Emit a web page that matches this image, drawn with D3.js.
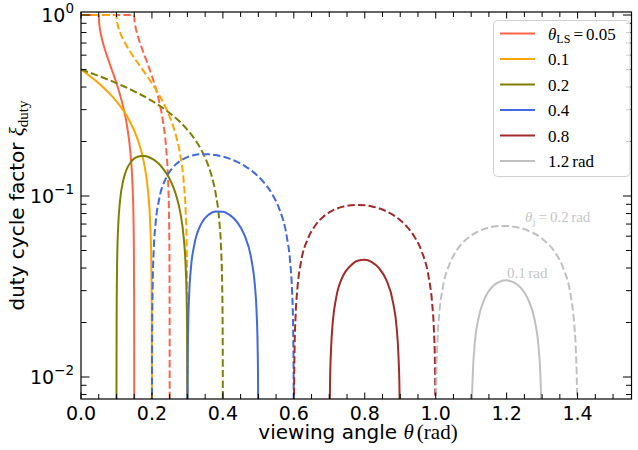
<!DOCTYPE html>
<html>
<head>
<meta charset="utf-8">
<script src="https://cdn.jsdelivr.net/npm/d3@7"></script>
<style>
  body { margin: 0; background: #fff; }
  svg { display: block; }
</style>
</head>
<body>
<svg id="chart" width="638" height="450"></svg>
<script>
// ---- data -------------------------------------------------------------
// line-of-sight (precession) angles, one colour each
const thetaLS = [0.05, 0.1, 0.2, 0.4, 0.8, 1.2];
const legendLabels = ["0.05", "0.1", "0.2", "0.4", "0.8", "1.2"];
const seriesColors = ["#ff6347", "#ffa500", "#808000", "#4169e1", "#a52a2a", "#c0c0c0"];

// duty cycle factor vs viewing angle, [theta (rad), xi], jet half-opening 0.1 rad (solid)
const xiJet01_ls005 = [[0,1],[0.05,1],[0.051,0.9103],[0.0525,0.8592],[0.055,0.8025],[0.06,0.7252],[0.07,0.6211],[0.08,0.5439],[0.09,0.4788],[0.10,0.4196],[0.11,0.3626],[0.12,0.3050],[0.13,0.2426],[0.14,0.1677],[0.145,0.1175],[0.148,0.0738],[0.149,0.0521],[0.1497,0.0285],[0.1499,0.0164],[0.15,0]];
const xiJet01_ls01 = [[0,0.5],[0.02,0.4681],[0.04,0.4359],[0.06,0.4030],[0.08,0.3690],[0.10,0.3333],[0.12,0.2952],[0.14,0.2532],[0.16,0.2048],[0.17,0.1766],[0.18,0.1436],[0.19,0.1011],[0.195,0.0713],[0.198,0.0450],[0.199,0.0319],[0.1995,0.0225],[0.1999,0.0101],[0.2,0]];
const xiJet01_ls02 = [[0.1,0],[0.1001,0.0101],[0.1005,0.0224],[0.101,0.0316],[0.102,0.0444],[0.105,0.0687],[0.11,0.0939],[0.12,0.1241],[0.13,0.1422],[0.14,0.1537],[0.15,0.1609],[0.16,0.1647],[0.17,0.1666],[0.18,0.1663],[0.19,0.1643],[0.20,0.1609],[0.21,0.1561],[0.22,0.1501],[0.23,0.1428],[0.24,0.1341],[0.25,0.1241],[0.26,0.1123],[0.27,0.0982],[0.28,0.0809],[0.29,0.0577],[0.295,0.0409],[0.298,0.0259],[0.299,0.0184],[0.2998,0.0083],[0.3,0]];
const xiJet01_ls04 = [[0.3,0],[0.3003,0.0070],[0.301,0.0129],[0.302,0.0182],[0.305,0.0287],[0.31,0.0402],[0.32,0.0545],[0.34,0.0708],[0.36,0.0789],[0.38,0.0822],[0.40,0.0819],[0.42,0.0784],[0.44,0.0718],[0.46,0.0613],[0.48,0.0451],[0.49,0.0324],[0.495,0.0230],[0.498,0.0145],[0.499,0.0103],[0.4997,0.0056],[0.5,0]];
const xiJet01_ls08 = [[0.7,0],[0.7005,0.0045],[0.702,0.0091],[0.705,0.0143],[0.71,0.0203],[0.72,0.0278],[0.74,0.0366],[0.76,0.0412],[0.78,0.0439],[0.80,0.0444],[0.82,0.0431],[0.84,0.0399],[0.86,0.0346],[0.88,0.0257],[0.89,0.0186],[0.895,0.0131],[0.898,0.0083],[0.9,0]];
const xiJet01_ls12 = [[1.1,0],[1.1005,0.0034],[1.102,0.0068],[1.105,0.0108],[1.11,0.0153],[1.12,0.0208],[1.14,0.0277],[1.16,0.0316],[1.18,0.0336],[1.20,0.0342],[1.22,0.0333],[1.24,0.0311],[1.26,0.0270],[1.28,0.0202],[1.29,0.0147],[1.295,0.0104],[1.298,0.0066],[1.3,0]];

// same, jet half-opening 0.2 rad (dashed)
const xiJet02_ls005 = [[0,1],[0.15,1],[0.151,0.9265],[0.1525,0.8836],[0.155,0.8357],[0.16,0.7670],[0.17,0.6688],[0.18,0.5914],[0.19,0.5235],[0.20,0.4601],[0.21,0.3982],[0.22,0.3350],[0.23,0.2665],[0.24,0.1840],[0.245,0.1287],[0.248,0.0809],[0.249,0.0571],[0.2495,0.0403],[0.2499,0.0180],[0.24995,0.0127],[0.25,0]];
const xiJet02_ls01 = [[0,1],[0.1,1],[0.101,0.9365],[0.1025,0.8999],[0.105,0.8592],[0.11,0.8025],[0.12,0.7252],[0.13,0.6681],[0.14,0.6211],[0.15,0.5804],[0.16,0.5439],[0.17,0.5103],[0.18,0.4788],[0.19,0.4487],[0.20,0.4196],[0.21,0.3910],[0.22,0.3626],[0.23,0.3341],[0.24,0.3050],[0.25,0.2748],[0.26,0.2426],[0.27,0.2078],[0.28,0.1677],[0.29,0.1175],[0.295,0.0826],[0.298,0.0521],[0.299,0.0368],[0.2997,0.0201],[0.2999,0.0116],[0.3,0]];
const xiJet02_ls02 = [[0,0.5],[0.04,0.4685],[0.08,0.4367],[0.12,0.4042],[0.16,0.3706],[0.20,0.3352],[0.24,0.2972],[0.28,0.2553],[0.30,0.2322],[0.32,0.2069],[0.34,0.1785],[0.36,0.1453],[0.37,0.1256],[0.38,0.1024],[0.39,0.0723],[0.395,0.0511],[0.398,0.0323],[0.399,0.0228],[0.3998,0.0102],[0.4,0]];
const xiJet02_ls04 = [[0.2,0],[0.2001,0.0071],[0.2005,0.0159],[0.202,0.0318],[0.205,0.0501],[0.21,0.0697],[0.22,0.0953],[0.24,0.1260],[0.26,0.1446],[0.28,0.1565],[0.30,0.1640],[0.32,0.1683],[0.34,0.1702],[0.36,0.1701],[0.38,0.1683],[0.40,0.1650],[0.42,0.1604],[0.44,0.1544],[0.46,0.1471],[0.48,0.1384],[0.50,0.1281],[0.52,0.1161],[0.54,0.1017],[0.56,0.0839],[0.58,0.0599],[0.59,0.0425],[0.595,0.0300],[0.598,0.0190],[0.5995,0.0095],[0.6,0]];
const xiJet02_ls08 = [[0.6,0],[0.6005,0.0069],[0.602,0.0138],[0.605,0.0218],[0.61,0.0307],[0.62,0.0429],[0.64,0.0583],[0.66,0.0685],[0.68,0.0759],[0.70,0.0812],[0.74,0.0874],[0.78,0.0893],[0.80,0.0889],[0.82,0.0876],[0.86,0.0825],[0.90,0.0735],[0.92,0.0673],[0.94,0.0596],[0.96,0.0497],[0.98,0.0358],[0.99,0.0255],[0.995,0.0181],[0.998,0.0115],[0.9995,0.0057],[1.0,0]];
const xiJet02_ls12 = [[1.0,0],[1.0005,0.0050],[1.002,0.0101],[1.005,0.0159],[1.01,0.0223],[1.02,0.0311],[1.04,0.0425],[1.06,0.0504],[1.08,0.0562],[1.10,0.0605],[1.14,0.0660],[1.18,0.0683],[1.20,0.0683],[1.22,0.0677],[1.26,0.0645],[1.30,0.0581],[1.34,0.0476],[1.36,0.0398],[1.38,0.0287],[1.39,0.0202],[1.395,0.0143],[1.398,0.0091],[1.3995,0.0045],[1.4,0]];

const solidSeries = [xiJet01_ls005, xiJet01_ls01, xiJet01_ls02, xiJet01_ls04, xiJet01_ls08, xiJet01_ls12];
const dashedSeries = [xiJet02_ls005, xiJet02_ls01, xiJet02_ls02, xiJet02_ls04, xiJet02_ls08, xiJet02_ls12];

// axes
const xDomain = [0, 1.552];
const yDomain = [0.00756, 1.039];
const xMajorTicks = [0, 0.2, 0.4, 0.6, 0.8, 1.0, 1.2, 1.4];
const xTickLabels = ["0.0", "0.2", "0.4", "0.6", "0.8", "1.0", "1.2", "1.4"];
const yMajorTicks = [1, 0.1, 0.01];
const yTickExponents = ["0", "\u22121", "\u22122"];

// ---- layout -----------------------------------------------------------
const plot = { left: 81, right: 631.5, top: 12, bottom: 399 };
const sans = "'DejaVu Sans', sans-serif";
const serif = "'Liberation Serif', 'DejaVu Serif', serif";

const svg = d3.select("#chart");
svg.append("rect").attr("width", 638).attr("height", 450).attr("fill", "#fff");

const x = d3.scaleLinear().domain(xDomain).range([plot.left, plot.right]);
const y = d3.scaleLog().domain(yDomain).range([plot.bottom, plot.top]);

svg.append("defs").append("clipPath").attr("id", "plot-clip")
  .append("rect")
  .attr("x", plot.left).attr("y", plot.top)
  .attr("width", plot.right - plot.left).attr("height", plot.bottom - plot.top);

// xi = 0 lies at -infinity on the log axis: send it below the frame
const line = d3.line()
  .x(d => x(d[0]))
  .y(d => d[1] > 0 ? y(d[1]) : plot.bottom + 60)
  .curve(d3.curveMonotoneX);

const curves = svg.append("g").attr("clip-path", "url(#plot-clip)")
  .attr("fill", "none").attr("stroke-width", 2).attr("stroke-linejoin", "round");

thetaLS.forEach((ls, i) => {
  curves.append("path").datum(solidSeries[i])
    .attr("d", line).attr("stroke", seriesColors[i]);
  curves.append("path").datum(dashedSeries[i])
    .attr("d", line).attr("stroke", seriesColors[i])
    .attr("stroke-dasharray", "7.4,3.2");
});

// ---- ticks (pointing inward on all four sides) --------------------------
const xMinorTicks = d3.range(0, 31).map(k => k * 0.05).filter(v => Math.round(v * 100) % 20 !== 0);
const yMinorTicks = [];
[0.001, 0.01, 0.1].forEach(dec => {
  for (let m = 2; m <= 9; m++) {
    const v = m * dec;
    if (v >= yDomain[0] && v <= yDomain[1]) yMinorTicks.push(v);
  }
});

const ticks = svg.append("g").attr("stroke", "#000").attr("stroke-width", 1);
function vTicks(values, len) {
  values.forEach(v => {
    const px = x(v);
    ticks.append("line").attr("x1", px).attr("x2", px).attr("y1", plot.bottom).attr("y2", plot.bottom - len);
    ticks.append("line").attr("x1", px).attr("x2", px).attr("y1", plot.top).attr("y2", plot.top + len);
  });
}
function hTicks(values, len) {
  values.forEach(v => {
    const py = y(v);
    ticks.append("line").attr("y1", py).attr("y2", py).attr("x1", plot.left).attr("x2", plot.left + len);
    ticks.append("line").attr("y1", py).attr("y2", py).attr("x1", plot.right).attr("x2", plot.right - len);
  });
}
vTicks(xMajorTicks, 6.5);
vTicks(xMinorTicks, 5);
hTicks(yMajorTicks, 8.5);
hTicks(yMinorTicks, 5.5);

// frame
svg.append("rect")
  .attr("x", plot.left).attr("y", plot.top)
  .attr("width", plot.right - plot.left).attr("height", plot.bottom - plot.top)
  .attr("fill", "none").attr("stroke", "#000").attr("stroke-width", 1.2);

// tick labels
svg.append("g").selectAll("text").data(xMajorTicks).join("text")
  .attr("x", d => x(d)).attr("y", plot.bottom + 21)
  .attr("text-anchor", "middle")
  .attr("font-family", sans).attr("font-size", 19)
  .text((d, i) => xTickLabels[i]);

yMajorTicks.forEach((v, i) => {
  const t = svg.append("text")
    .attr("x", 74).attr("y", y(v) + 6.5)
    .attr("text-anchor", "end")
    .attr("font-family", sans).attr("font-size", 19);
  t.append("tspan").text("10");
  t.append("tspan").attr("font-size", 13.5).attr("dy", -8.5).text(yTickExponents[i]);
});

// axis titles
const xTitle = svg.append("text")
  .attr("x", 358).attr("y", 439)
  .attr("text-anchor", "middle")
  .attr("font-family", sans).attr("font-size", 20);
xTitle.append("tspan").text("viewing angle ");
xTitle.append("tspan").attr("font-family", serif).attr("font-style", "italic").attr("font-size", 21).text("\u03b8");
xTitle.append("tspan").attr("font-family", serif).attr("font-size", 21).attr("dx", 3).text("(rad)");

const yTitle = svg.append("text")
  .attr("transform", `translate(23.5,${(plot.top + plot.bottom) / 2}) rotate(-90)`)
  .attr("text-anchor", "middle")
  .attr("font-family", sans).attr("font-size", 20);
yTitle.append("tspan").text("duty cycle factor ");
yTitle.append("tspan").attr("font-family", serif).attr("font-style", "italic").attr("font-size", 21).text("\u03be");
yTitle.append("tspan").attr("font-family", serif).attr("font-size", 15).attr("dy", 4).text("duty");

// ---- legend -------------------------------------------------------------
const legend = svg.append("g");
legend.append("rect")
  .attr("x", 493.5).attr("y", 20.5).attr("width", 136.5).attr("height", 156)
  .attr("rx", 4).attr("fill", "#fff").attr("fill-opacity", 0.8)
  .attr("stroke", "#d0d0d0").attr("stroke-width", 1);

thetaLS.forEach((ls, i) => {
  const cy = 33.5 + i * 25.5;
  legend.append("line")
    .attr("x1", 500).attr("x2", 535).attr("y1", cy).attr("y2", cy)
    .attr("stroke", seriesColors[i]).attr("stroke-width", 2);
  const t = legend.append("text")
    .attr("x", 548).attr("y", cy + 6)
    .attr("font-family", serif).attr("font-size", 17);
  if (i === 0) {
    t.append("tspan").attr("font-style", "italic").text("\u03b8");
    t.append("tspan").attr("font-size", 12).attr("dy", 3).text("LS");
    t.append("tspan").attr("dy", -3).attr("dx", 3).text("=");
    t.append("tspan").attr("dx", 3).text(legendLabels[i]);
  } else if (i === thetaLS.length - 1) {
    t.append("tspan").text(legendLabels[i]);
    t.append("tspan").attr("dx", 3).text("rad");
  } else {
    t.append("tspan").text(legendLabels[i]);
  }
});

// ---- jet opening labels on the 1.2 rad curves ------------------------------
const noteColor = "#c6c6c6";
const note1 = svg.append("text")
  .attr("x", 525).attr("y", 222)
  .attr("font-family", serif).attr("font-size", 15).attr("fill", noteColor);
note1.append("tspan").attr("font-style", "italic").text("\u03b8");
note1.append("tspan").attr("font-size", 11).attr("dy", 3).text("j");
note1.append("tspan").attr("dy", -3).attr("dx", 3).text("=");
note1.append("tspan").attr("dx", 3).text("0.2");
note1.append("tspan").attr("dx", 2.5).text("rad");

const note2 = svg.append("text")
  .attr("x", 507).attr("y", 278)
  .attr("font-family", serif).attr("font-size", 15).attr("fill", noteColor);
note2.append("tspan").text("0.1");
note2.append("tspan").attr("dx", 2.5).text("rad");
</script>
</body>
</html>
